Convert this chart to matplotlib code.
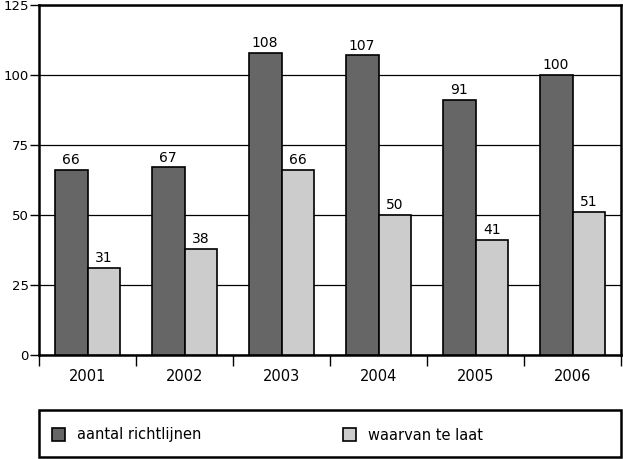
import matplotlib
matplotlib.use("Agg")
import matplotlib.pyplot as plt
import numpy as np
from matplotlib.patches import Patch, Rectangle

years = ["2001", "2002", "2003", "2004", "2005", "2006"]
aantal = [66, 67, 108, 107, 91, 100]
te_laat = [31, 38, 66, 50, 41, 51]
series_names = ["aantal richtlijnen", "waarvan te laat"]
yticks = [0, 25, 50, 75, 100, 125]

plt.rcParams['font.family'] = ['DejaVu Sans']

W, H = 623, 459
fig = plt.figure(figsize=(W/100, H/100), dpi=100)
ax = fig.add_axes([39/W, 1-355/H, 582/W, 350/H])

x = np.arange(len(years))
bw = 0.34
dark, light = "#666666", "#cccccc"
b1 = ax.bar(x - bw/2, aantal, bw, color=dark, edgecolor="black", linewidth=1.2, zorder=3)
b2 = ax.bar(x + bw/2, te_laat, bw, color=light, edgecolor="black", linewidth=1.2, zorder=3)
for bars, vals in ((b1, aantal), (b2, te_laat)):
    for r, v in zip(bars, vals):
        ax.text(r.get_x() + r.get_width()/2, v + 1.0, str(v), ha="center", va="bottom",
                fontsize=10, zorder=4)

ax.set_xlim(-0.5, len(years) - 0.5)
ax.set_ylim(0, 125)
ax.set_yticks(yticks)
ax.tick_params(axis="y", length=6.5, width=1, labelsize=9.5, pad=1)
ax.yaxis.grid(True, color="black", linewidth=0.9, zorder=0)
ax.set_xticks(x)
ax.set_xticklabels(years, fontsize=10.5)
ax.set_xticks(np.arange(len(years) + 1) - 0.5, minor=True)
ax.tick_params(axis="x", which="major", length=0, pad=10)
ax.tick_params(axis="x", which="minor", length=8, width=1, direction="out")
for s in ax.spines.values():
    s.set_linewidth(1.8)

# legend frame
fig.patches.append(Rectangle((39/W, 2/H), 582/W, 47/H, transform=fig.transFigure,
                             facecolor="white", edgecolor="black", linewidth=1.8, zorder=0))
colors = [dark, light]
lx = [52/W, 343/W]
for name, c, xx in zip(series_names, colors, lx):
    h = Patch(facecolor=c, edgecolor="black", linewidth=1.2)
    fig.legend([h], [name], loc="center left", bbox_to_anchor=(xx, 1-435/H),
               fontsize=10.5, frameon=False, handlelength=0.9, handleheight=0.9,
               handletextpad=0.8, borderaxespad=0, borderpad=0)

fig.savefig("out.png", dpi=100)
